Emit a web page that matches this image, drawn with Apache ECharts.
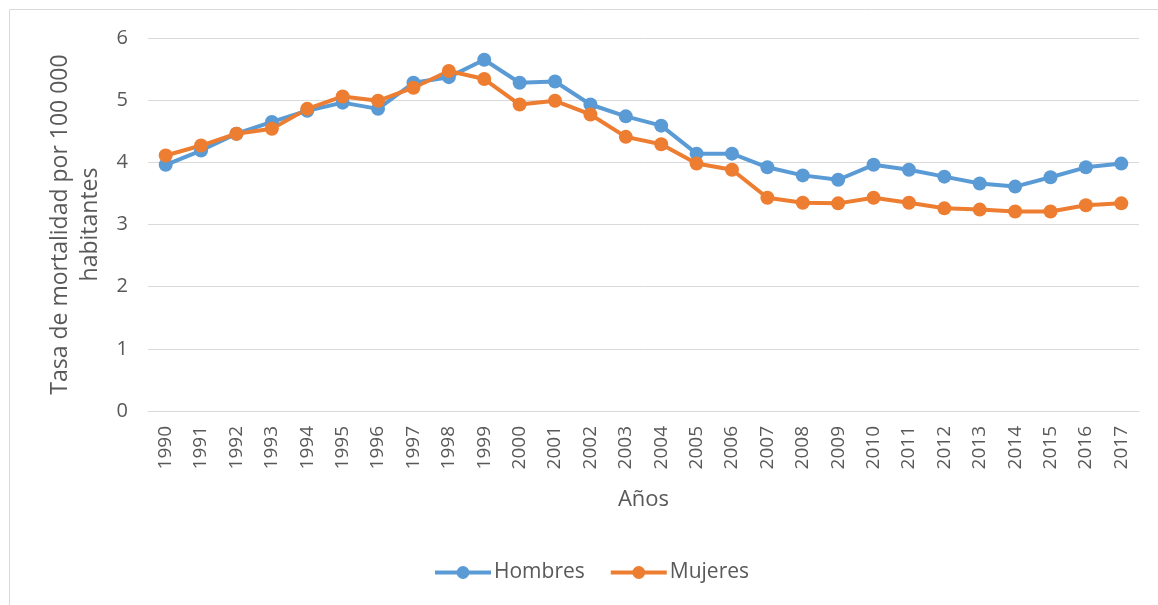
<!DOCTYPE html>
<html>
<head>
<meta charset="utf-8">
<script src="https://cdn.jsdelivr.net/npm/echarts@6/dist/echarts.min.js"></script>
<style>
  html, body { margin: 0; padding: 0; background: #fff; }
  #chart { width: 1158px; height: 605px; }
</style>
</head>
<body>
<div id="chart"></div>
<script>
var years = ['1990','1991','1992','1993','1994','1995','1996','1997','1998','1999',
  '2000','2001','2002','2003','2004','2005','2006','2007','2008','2009',
  '2010','2011','2012','2013','2014','2015','2016','2017'];
var hombres = [3.96,4.19,4.46,4.65,4.83,4.96,4.86,5.28,5.37,5.65,
  5.28,5.30,4.93,4.74,4.59,4.14,4.14,3.92,3.79,3.72,
  3.96,3.88,3.77,3.66,3.61,3.76,3.92,3.98];
var mujeres = [4.11,4.27,4.46,4.54,4.86,5.06,4.99,5.20,5.47,5.34,
  4.93,4.99,4.77,4.41,4.29,3.98,3.88,3.43,3.35,3.34,
  3.43,3.35,3.26,3.24,3.21,3.21,3.31,3.34];
var yTicks = [0, 6, 1];

var txt = '#595959';
var fontFam = '"Open Sans", "Liberation Sans", sans-serif';

var dom = document.getElementById('chart');
var myChart = echarts.init(dom);

var option = {
  animation: false,
  textStyle: { fontFamily: fontFam, color: txt },
  graphic: [{
    type: 'rect',
    shape: { x: 9.5, y: 9.5, width: 1170, height: 620 },
    style: { fill: 'none', stroke: '#d9d9d9', lineWidth: 1 },
    silent: true
  }],
  grid: { left: 148, right: 19, top: 38, bottom: 194 },
  legend: {
    data: ['Hombres', 'Mujeres'],
    top: 557,
    left: 428,
    itemWidth: 56,
    itemHeight: 16,
    itemGap: 24,
    lineStyle: { width: 4 },
    textStyle: { fontSize: 21, color: txt, fontFamily: fontFam, padding: [0, 0, 0, -2] }
  },
  xAxis: {
    type: 'category',
    data: years,
    boundaryGap: true,
    name: 'Años',
    nameLocation: 'middle',
    nameGap: 78,
    nameTextStyle: { fontSize: 22, color: txt },
    axisLine: { show: true, lineStyle: { color: '#d9d9d9', width: 1 } },
    axisTick: { show: false },
    axisLabel: { rotate: 90, interval: 0, fontSize: 19, color: txt, margin: 15 }
  },
  yAxis: {
    type: 'value',
    min: yTicks[0],
    max: yTicks[1],
    interval: yTicks[2],
    name: 'Tasa de mortalidad por 100 000\nhabitantes',
    nameLocation: 'middle',
    nameGap: 42,
    nameTextStyle: { fontSize: 23, color: txt, lineHeight: 30 },
    axisLine: { show: false },
    axisTick: { show: false },
    axisLabel: { fontSize: 20, color: txt, margin: 20 },
    splitLine: { lineStyle: { color: '#d9d9d9', width: 1 } }
  },
  series: [
    {
      name: 'Hombres',
      type: 'line',
      data: hombres,
      symbol: 'circle',
      symbolSize: 14,
      lineStyle: { width: 4, color: '#5B9BD5' },
      itemStyle: { color: '#5B9BD5' }
    },
    {
      name: 'Mujeres',
      type: 'line',
      data: mujeres,
      symbol: 'circle',
      symbolSize: 14,
      lineStyle: { width: 4, color: '#ED7D31' },
      itemStyle: { color: '#ED7D31' }
    }
  ]
};

myChart.setOption(option);
</script>
</body>
</html>
